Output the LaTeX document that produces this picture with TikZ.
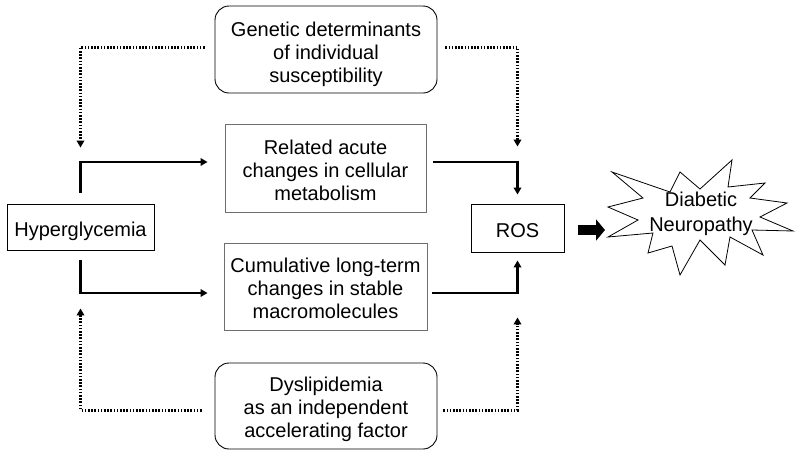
\documentclass[tikz,border=0pt]{standalone}
\usepackage{fontspec}
\setmainfont{Liberation Sans}
\usetikzlibrary{arrows.meta,calc}
\definecolor{boxgray}{RGB}{110,110,110}
\newcommand{\lowtxt}[2][5pt]{\raisebox{-#1}[\height][\depth]{\begin{tabular}{@{}c@{}}#2\end{tabular}}}
\begin{document}
\begin{tikzpicture}[x=1pt,y=-1pt,
  every node/.style={font=\fontsize{20}{23}\selectfont, inner sep=0pt},
  sqbox/.style={draw=black, line width=0.9pt},
  graybox/.style={draw=boxgray, line width=0.9pt},
  rbox/.style={draw=black, line width=0.9pt, rounded corners=14pt},
  flow/.style={line width=2.6pt, -{Triangle[length=7pt,width=7.5pt]}},
  dotflow/.style={line width=3pt, dash pattern=on 1.6pt off 1.6pt, -{Triangle[length=7pt,width=7.5pt]}},
  fatarrow/.style={line width=10pt, -{Triangle[length=9pt,width=21pt]}},
]
\fill[white] (0,0) rectangle (800,456);
\useasboundingbox (0,0) rectangle (800,456);

% nodes
\node[rbox, minimum width=222pt, minimum height=87pt] (gen) at (326,49.5)
  {\lowtxt{Genetic determinants\\ of individual\\ susceptibility}};
\node[graybox, minimum width=201pt, minimum height=88pt] (rel) at (325.5,168)
  {\lowtxt{Related acute\\ changes in cellular\\ metabolism}};
\node[graybox, minimum width=203pt, minimum height=87pt] (cum) at (325.5,286.5)
  {\lowtxt[4pt]{Cumulative long-term\\ changes in stable\\ macromolecules}};
\node[rbox, minimum width=222pt, minimum height=86pt] (dys) at (326,406)
  {\lowtxt[3.5pt]{Dyslipidemia\\ as an independent\\ accelerating factor}};
\node[sqbox, minimum width=147pt, minimum height=46pt] (hyp) at (80.5,227)
  {\lowtxt{Hyperglycemia}};
\node[sqbox, minimum width=93pt, minimum height=48pt] (ros) at (517.5,228)
  {\lowtxt{ROS}};

% explosion shape
\draw[line width=0.8pt, fill=white, line join=miter]
  (612,172) -- (670,192) -- (680,172) -- (700,189) -- (732,160) -- (728,187)
  -- (765,183) -- (750,198) -- (787,203) -- (760,217) -- (793,231) -- (752,230)
  -- (763,255) -- (730,237) -- (725,265) -- (700,240) -- (680,275) -- (672,246)
  -- (648,253) -- (653,233) -- (608,237) -- (638,220) -- (608,207) -- (643,198)
  -- cycle;
\coordinate (starw) at (607,230);
\node (dn) at (701,214.7) {\begin{tabular}{@{}c@{}}Diabetic\\[2pt] Neuropathy\end{tabular}};

% solid connectors
\draw[flow] ($(hyp.north)+(0,-11)$) |- ($(rel.west)+(-17,-6)$);
\draw[flow] ($(rel.east)+(7,-6)$) -| ($(ros.north)+(0,-9)$);
\draw[flow] ($(hyp.south)+(0,10)$) |- ($(cum.west)+(-16,6.5)$);
\draw[flow] ($(cum.east)+(5,6.5)$) -| ($(ros.south)+(0,8)$);

% dotted connectors
\draw[dotflow] ($(gen.west)+(-10,-2.5)$) -| ($(hyp.north)+(0,-56)$);
\draw[dotflow] ($(gen.east)+(8,-2.5)$) -| ($(ros.north)+(0,-57)$);
\draw[dotflow] ($(dys.west)+(-13,4)$) -| ($(hyp.south)+(0,58)$);
\draw[dotflow] ($(dys.east)+(6,4)$) -| ($(ros.south)+(0,65)$);

% fat arrow
\draw[fatarrow] ($(ros.east)+(14,2)$) -- ($(starw)+(-2,0)$);
\end{tikzpicture}
\end{document}
